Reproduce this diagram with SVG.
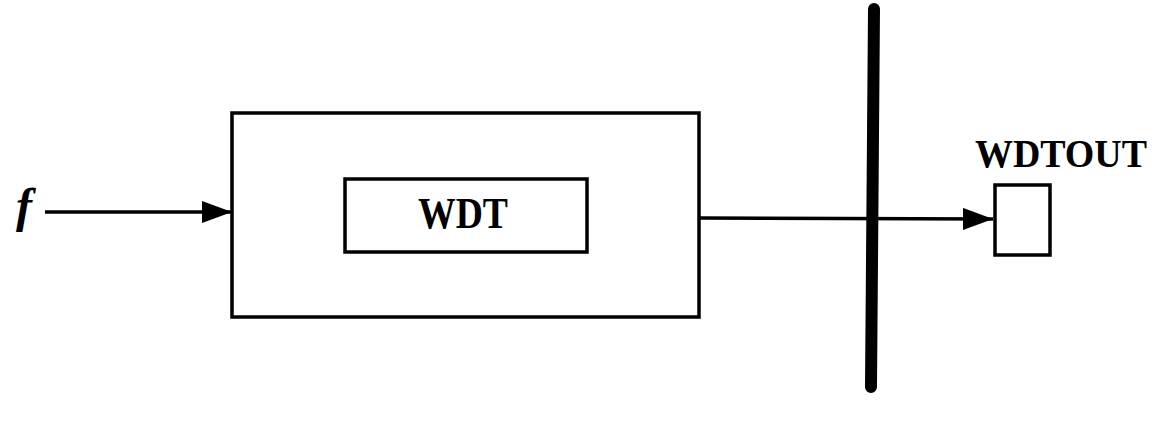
<svg xmlns="http://www.w3.org/2000/svg" width="1168" height="429" viewBox="0 0 1168 429">
<defs>
<style>
.box{fill:none;stroke:#000;stroke-width:3.5}
.ln{stroke:#000;stroke-width:3.5;fill:none}
.lbl{font-family:"Liberation Serif",serif;font-weight:bold;fill:#000}
</style>
<marker id="ah" markerWidth="30" markerHeight="22" refX="30" refY="11" orient="auto" markerUnits="userSpaceOnUse">
<path d="M0,0 L30,11 L0,22 Z" fill="#000"/>
</marker>
</defs>
<rect width="1168" height="429" fill="#fff"/>
<g id="connectors">
<line class="ln" x1="45" y1="212" x2="232" y2="212" marker-end="url(#ah)"/>
<line class="ln" x1="699" y1="218" x2="993" y2="219" marker-end="url(#ah)"/>
</g>
<g id="bus">
<line x1="874" y1="9" x2="871" y2="387" stroke="#000" stroke-width="12" stroke-linecap="round"/>
</g>
<g id="input-f">
<text class="lbl" x="24" y="222" font-size="48" font-style="italic" text-anchor="middle">f</text>
</g>
<g id="outer">
<rect class="box" x="232" y="113" width="467" height="204"/>
</g>
<g id="wdt">
<rect class="box" x="345" y="179" width="242" height="73"/>
<text class="lbl" x="463" y="228" font-size="44" text-anchor="middle" textLength="90" lengthAdjust="spacingAndGlyphs">WDT</text>
</g>
<g id="wdtout">
<text class="lbl" x="1061" y="167" font-size="41" text-anchor="middle" textLength="172" lengthAdjust="spacingAndGlyphs">WDTOUT</text>
<rect class="box" x="995" y="185" width="55" height="70"/>
</g>
</svg>
